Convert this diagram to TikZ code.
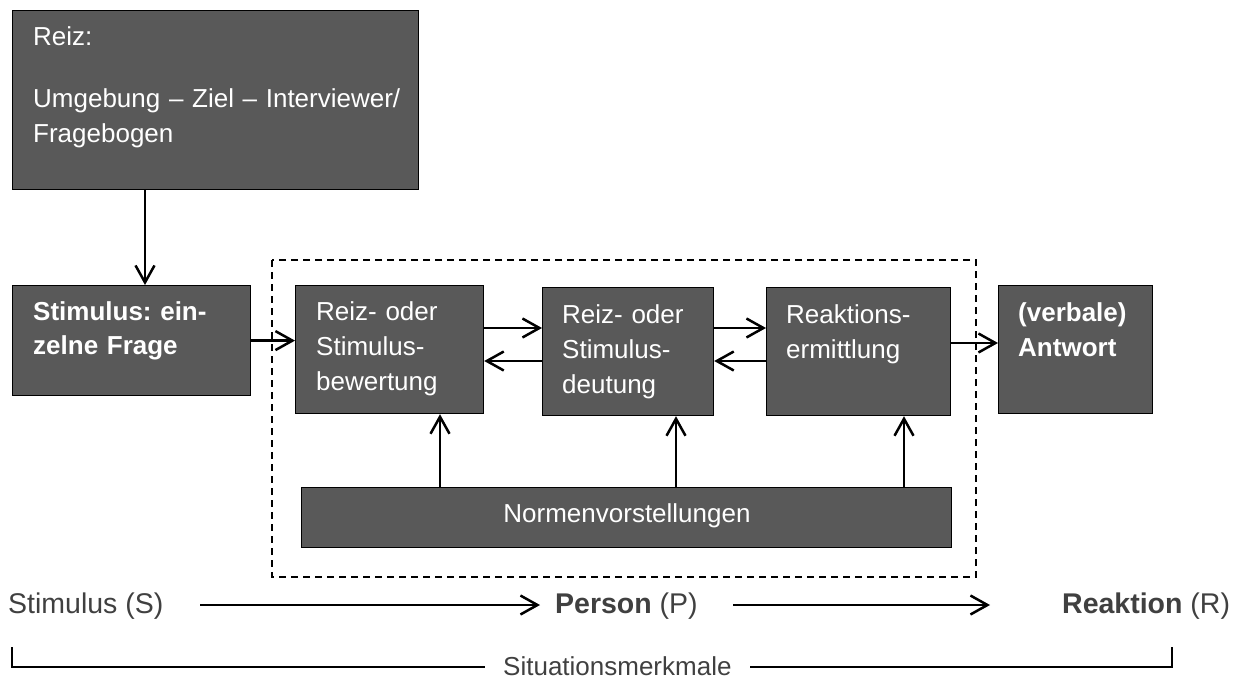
\documentclass[tikz,border=0pt]{standalone}
\usepackage{fontspec}
\setmainfont{Liberation Sans}
\usetikzlibrary{arrows.meta}
\definecolor{boxgray}{HTML}{595959}
\definecolor{labgray}{HTML}{404040}
\frenchspacing
\begin{document}
\begin{tikzpicture}[x=1pt,y=-1pt,
  box/.style={draw=black, line width=1.2pt, fill=boxgray, inner sep=0pt, anchor=north west},
  boxtext/.style={text=white, font=\fontsize{26}{35}\selectfont, anchor=base west, inner sep=0pt, text width=#1, align=left},
  lab/.style={text=labgray, font=\fontsize{28.5}{34}\selectfont, anchor=base west, inner sep=0pt},
  sitlabel/.style={text=labgray, font=\fontsize{26}{30}\selectfont, anchor=base west, inner sep=0pt},
  arr/.style={line width=2.5pt, -{Straight Barb[length=17pt,width=19pt,line width=2.5pt]}},
  plain/.style={line width=1.8pt, draw=black},
  frame/.style={line width=1.6pt, dash pattern=on 7pt off 5pt}
]
\useasboundingbox (0,0) rectangle (1249,679);

% dashed frame
\draw[frame] (272,260) rectangle (976,577);

% boxes
\node[box, minimum width=406pt, minimum height=179pt] (reiz) at (12,10) {};
\node[box, minimum width=238pt, minimum height=110pt] (stim) at (12,285) {};
\node[box, minimum width=188pt, minimum height=128pt] (b1) at (295,285) {};
\node[box, minimum width=171pt, minimum height=128pt] (b2) at (542,287) {};
\node[box, minimum width=184pt, minimum height=128pt] (b3) at (766,287) {};
\node[box, minimum width=154pt, minimum height=128pt] (ant) at (998,285) {};
\node[box, minimum width=650pt, minimum height=60pt] (norm) at (301,487) {};

% box texts
\node[boxtext=380pt] (reiztxt) at (33,46) {Reiz:\\[27pt]Umgebung – Ziel – Interviewer/\\Fragebogen};
\node[boxtext=210pt, font=\fontsize{26}{34}\selectfont\bfseries] (stimtxt) at (33,320) {Stimulus: ein-\\zelne Frage};
\node[boxtext=165pt] (b1txt) at (316,320) {Reiz- oder\\Stimulus-\\bewertung};
\node[boxtext=150pt] (b2txt) at (562,323) {Reiz- oder\\Stimulus-\\deutung};
\node[boxtext=160pt] (b3txt) at (786,323) {Reaktions-\\ermittlung};
\node[boxtext=130pt, font=\fontsize{26}{35}\selectfont\bfseries] (anttxt) at (1018,321) {(verbale)\\Antwort};
\node[text=white, font=\fontsize{26}{30}\selectfont, anchor=base, inner sep=0pt] (normtxt) at (627,522) {Normenvorstellungen};

% helper coordinates
\coordinate (yR) at (0,328);
\coordinate (yL) at (0,361);
\coordinate (yA) at (0,343);
\coordinate (x1) at (440,0);
\coordinate (x2) at (676,0);
\coordinate (x3) at (904,0);

% connectors
\draw[arr] ([xshift=133pt]reiz.south west) -- ([xshift=133pt]stim.north west);
\draw[arr] (stim.east) -- (stim.east -| b1.west);
\draw[arr] (b1.east |- yR) -- (b2.west |- yR);
\draw[arr] (b2.west |- yL) -- (b1.east |- yL);
\draw[arr] (b2.east |- yR) -- (b3.west |- yR);
\draw[arr] (b3.west |- yL) -- (b2.east |- yL);
\draw[arr] (b3.east |- yA) -- (ant.west |- yA);
\draw[arr] (norm.north -| x1) -- (b1.south -| x1);
\draw[arr] (norm.north -| x2) -- (b2.south -| x2);
\draw[arr] (norm.north -| x3) -- (b3.south -| x3);

% bottom row
\node[lab] (slab) at (8,613) {Stimulus (S)};
\node[lab] (plab) at (555,613) {\textbf{Person} (P)};
\node[lab] (rlab) at (1062,613) {\textbf{Reaktion} (R)};
\coordinate (a1s) at (200,605);
\coordinate (a1e) at (540,605);
\coordinate (a2s) at (733,605);
\coordinate (a2e) at (990,605);
\draw[arr] (a1s) -- (a1e);
\draw[arr] (a2s) -- (a2e);

% situation bracket
\node[sitlabel] (sit) at (503,675) {Situationsmerkmale};
\coordinate (bl) at (12,647);
\coordinate (bll) at (485,667);
\coordinate (brr) at (750,667);
\coordinate (br) at (1172,647);
\draw[plain] (bl) |- (bll);
\draw[plain] (brr) -| (br);
\end{tikzpicture}
\end{document}
